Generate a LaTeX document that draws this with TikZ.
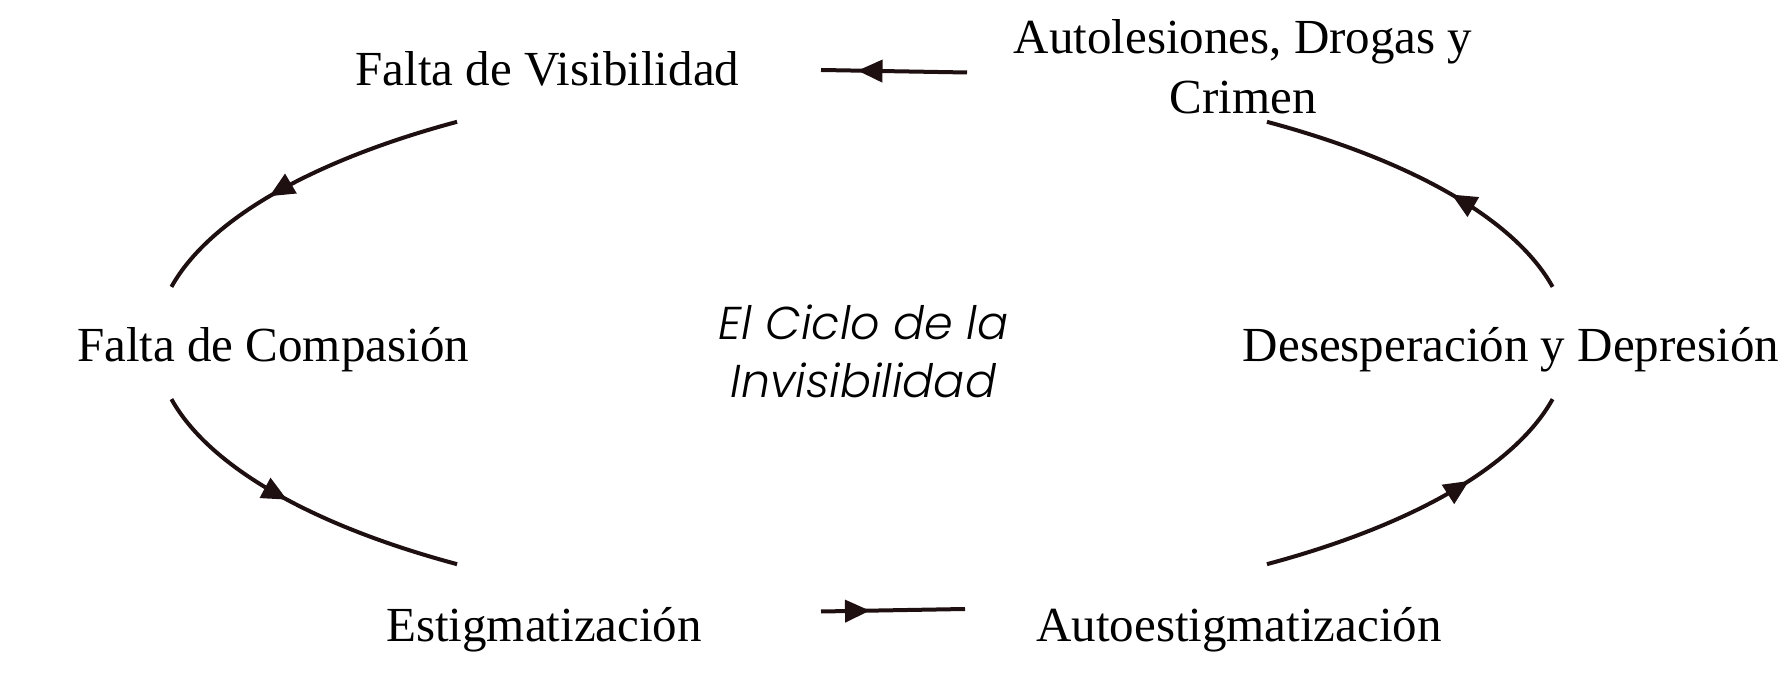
\documentclass[tikz,border=0pt]{standalone}
\usepackage{fontspec}
\usepackage[svgnames]{xcolor}
\usetikzlibrary{arrows.meta,decorations.markings}
\setmainfont{Liberation Serif}
\newfontfamily\cycleFont{Poppins Light Italic}
\definecolor{cycleInk}{HTML}{1E0F10}

\begin{document}
\begin{tikzpicture}[
  x=0.5pt,
  y=0.5pt,
  stage/.style={
    font=\fontsize{24.5}{30}\selectfont,
    anchor=base,
    inner sep=0pt,
    align=center
  },
  title/.style={
    font=\cycleFont\fontsize{23}{29}\selectfont,
    anchor=base,
    inner sep=0pt,
    align=center
  },
  link/.style={
    color=cycleInk,
    line width=2pt,
    postaction={decorate},
    decoration={
      markings,
      mark=at position #1 with {\arrow{Triangle[length=12.5pt,width=11pt]}}
    }
  }
]
\useasboundingbox (0,0) rectangle (1787,-683);
\coordinate (hub) at (862,-343);
\node[stage] (visibility) at (547.5,-85.5) {Falta de Visibilidad};
\node[stage] (harm) at (1243,-114) {Autolesiones, Drogas y\\Crimen};
\node[stage] (compassion) at (273,-362) {Falta de Compasión};
\node[stage] (despair) at (1511,-362) {Desesperación y Depresión};
\node[stage] (stigma) at (544,-641) {Estigmatización};
\node[stage] (selfstigma) at (1239,-641) {Autoestigmatización};
\node[title] (cycle) at (863.5,-398) {El Ciclo de la\\Invisibilidad};
\coordinate (harmEnd) at (967,-72.5);
\coordinate (visEnd) at (821,-70);
\coordinate (stigmaEnd) at (821,-611.5);
\coordinate (selfEnd) at (965,-609);
\draw[link=0.75] (harmEnd) -- (visEnd);
\draw[link=0.34] (stigmaEnd) -- (selfEnd);
\draw[link=0.6] (hub) ++(125:353pt and 135pt)
  arc[start angle=125, end angle=168, x radius=353pt, y radius=135pt];
\draw[link=0.46] (hub) ++(192:353pt and 135pt)
  arc[start angle=192, end angle=235, x radius=353pt, y radius=135pt];
\draw[link=0.65] (hub) ++(305:353pt and 135pt)
  arc[start angle=305, end angle=348, x radius=353pt, y radius=135pt];
\draw[link=0.41] (hub) ++(12:353pt and 135pt)
  arc[start angle=12, end angle=55, x radius=353pt, y radius=135pt];
\end{tikzpicture}
\end{document}
